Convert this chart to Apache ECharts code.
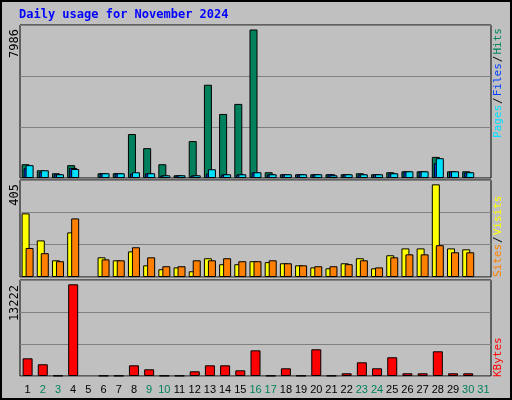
<!DOCTYPE html>
<html>
<head>
<meta charset="utf-8">
<script src="https://cdn.jsdelivr.net/npm/echarts@6/dist/echarts.min.js"></script>
<style>
  html, body { margin: 0; padding: 0; background: #c0c0c0; }
  #frame { position: absolute; left: 0; top: 0; width: 508px; height: 396px; border: 2px solid #000; }
  #main { width: 508px; height: 396px; }
</style>
</head>
<body>
<div id="frame"><div id="main"></div></div>
<script>
// Webalizer daily usage, November 2024
var days = [];
for (var d = 1; d <= 31; d++) days.push(String(d));
var weekend = ["2", "3", "9", "10", "16", "17", "23", "24", "30", "31"];

var hits   = [740, 415, 255, 690, 0, 255, 255, 2365, 1605, 740, 145, 1985, 5015, 3445, 3985, 7986,
              310, 200, 200, 200, 200, 200, 255, 200, 310, 360, 360, 1135, 360, 360, 0];
var files  = [520, 325, 200, 540, 0, 250, 250, 230, 250, 140, 140, 140, 230, 195, 195, 300,
              195, 195, 195, 195, 195, 195, 195, 195, 250, 350, 350, 795, 350, 300, 0];
var pages  = [690, 415, 200, 485, 0, 255, 255, 310, 255, 145, 145, 145, 470, 200, 200, 310,
              200, 200, 200, 200, 145, 200, 200, 200, 255, 360, 360, 1065, 360, 310, 0];
var visits = [278, 160, 73, 195, 0, 86, 73, 112, 51, 34, 42, 25, 82, 56, 56, 69,
              65, 60, 51, 42, 38, 60, 82, 38, 95, 125, 125, 405, 125, 121, 0];
var sites  = [127, 104, 69, 256, 0, 77, 73, 130, 86, 47, 47, 73, 73, 82, 69, 69,
              73, 60, 51, 47, 47, 56, 73, 42, 86, 99, 99, 139, 108, 108, 0];
var kbytes = [2550, 1690, 50, 13222, 0, 50, 50, 1540, 965, 50, 50, 680, 1540, 1540, 820, 3700,
              50, 1110, 50, 3850, 50, 390, 1975, 1110, 2700, 390, 390, 3560, 390, 390, 0];

var mono = "DejaVu Sans Mono";
var mychart = echarts.init(document.getElementById("main"));

// days with no traffic draw nothing
function nz(arr) { return arr.map(function (v) { return v === 0 ? null : v; }); }

function xAx(idx, showLabel) {
    return {
        type: "category", gridIndex: idx, data: days,
        axisLine: { show: false }, axisTick: { show: false },
        axisLabel: {
            show: showLabel, interval: 0, margin: 8, fontFamily: "Liberation Sans", fontSize: 11,
            color: function (v) { return weekend.indexOf(v) >= 0 ? "#00805c" : "#000"; }
        }
    };
}
function yAx(idx, max) {
    return {
        type: "value", gridIndex: idx, min: 0, max: max, interval: max / 3,
        axisLabel: { show: false }, axisLine: { show: false }, axisTick: { show: false },
        splitLine: { lineStyle: { color: "#808080", width: 1 } }
    };
}
var edge = { borderColor: "#000", borderWidth: 1 };

var option = {
    animation: false,
    backgroundColor: "#c0c0c0",
    grid: [
        { left: 18, right: 19, top: 23, height: 153, show: true, borderColor: "#000", borderWidth: 1 },
        { left: 18, right: 19, top: 178, height: 97, show: true, borderColor: "#000", borderWidth: 1 },
        { left: 18, right: 19, top: 278, height: 96, show: true, borderColor: "#000", borderWidth: 1 }
    ],
    xAxis: [xAx(0, false), xAx(1, false), xAx(2, true)],
    yAxis: [yAx(0, 8228), yAx(1, 424), yAx(2, 13842)],
    series: [
        { type: "bar", name: "Hits", xAxisIndex: 0, yAxisIndex: 0, data: nz(hits), barWidth: 8, barGap: "-75%",
          itemStyle: Object.assign({ color: "#00805c" }, edge) },
        { type: "bar", name: "Files", xAxisIndex: 0, yAxisIndex: 0, data: nz(files), barWidth: 8, barGap: "-75%",
          itemStyle: Object.assign({ color: "#0040ff" }, edge) },
        { type: "bar", name: "Pages", xAxisIndex: 0, yAxisIndex: 0, data: nz(pages), barWidth: 8, barGap: "-75%",
          itemStyle: Object.assign({ color: "#00e0ff" }, edge) },
        { type: "bar", name: "Visits", xAxisIndex: 1, yAxisIndex: 1, data: nz(visits), barWidth: 8, barGap: "-50%",
          itemStyle: Object.assign({ color: "#ffff00" }, edge) },
        { type: "bar", name: "Sites", xAxisIndex: 1, yAxisIndex: 1, data: nz(sites), barWidth: 8, barGap: "-50%",
          itemStyle: Object.assign({ color: "#ff8000" }, edge) },
        { type: "bar", name: "KBytes", xAxisIndex: 2, yAxisIndex: 2, data: nz(kbytes), barWidth: 10,
          itemStyle: Object.assign({ color: "#ff0000" }, edge) }
    ],
    graphic: [
        { type: "text", left: 17, top: 7,
          style: { text: "Daily usage for November 2024", fill: "#0000ff", font: "bold 12px " + mono } },
        { type: "text", x: 7, y: 27, rotation: Math.PI / 2,
          style: { text: "7986", fill: "#000", font: "12px " + mono, align: "right", verticalAlign: "top" } },
        { type: "text", x: 7, y: 182, rotation: Math.PI / 2,
          style: { text: "405", fill: "#000", font: "12px " + mono, align: "right", verticalAlign: "top" } },
        { type: "text", x: 7, y: 283, rotation: Math.PI / 2,
          style: { text: "13222", fill: "#000", font: "12px " + mono, align: "right", verticalAlign: "top" } },
        { type: "text", x: 491, y: 136, rotation: Math.PI / 2,
          style: { text: "{p|Pages}{s|/}{f|Files}{s|/}{h|Hits}", font: "11px " + mono, verticalAlign: "top",
                   rich: { p: { fill: "#00e0ff", font: "11px " + mono }, s: { fill: "#000", font: "11px " + mono, padding: [0, 1] },
                           f: { fill: "#0040ff", font: "11px " + mono }, h: { fill: "#00805c", font: "11px " + mono } } } },
        { type: "text", x: 491, y: 275, rotation: Math.PI / 2,
          style: { text: "{a|Sites}{s|/}{b|Visits}", font: "11px " + mono, verticalAlign: "top",
                   rich: { a: { fill: "#ff8000", font: "11px " + mono }, s: { fill: "#000", font: "11px " + mono, padding: [0, 1] },
                           b: { fill: "#ffff00", font: "11px " + mono } } } },
        { type: "text", x: 491, y: 375, rotation: Math.PI / 2,
          style: { text: "KBytes", fill: "#ff0000", font: "11px " + mono, verticalAlign: "top" } }
    ]
};
mychart.setOption(option);
</script>
</body>
</html>
